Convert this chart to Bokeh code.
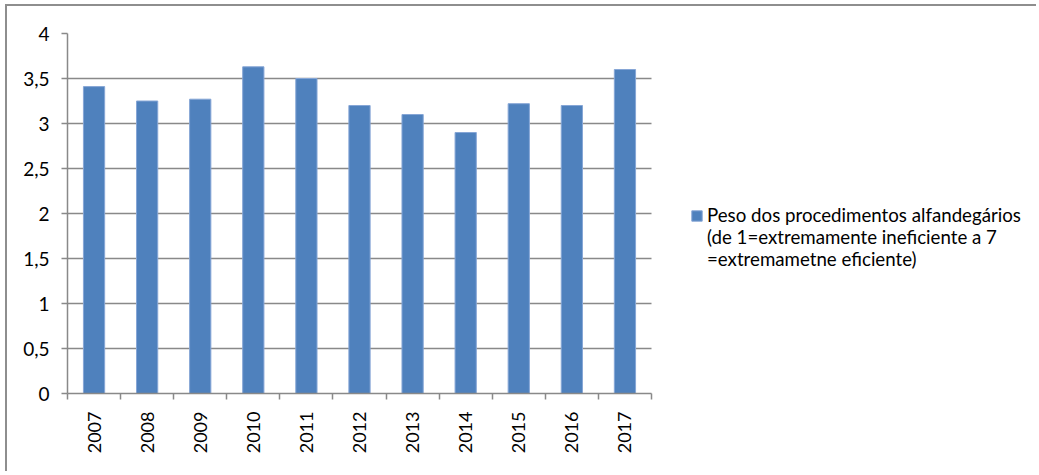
import math
from bokeh.plotting import figure
from bokeh.models import Range1d, FixedTicker, Legend, LegendItem, ColumnDataSource, BoxAnnotation
from bokeh.embed import file_html
from bokeh.resources import INLINE

years = ["2007", "2008", "2009", "2010", "2011", "2012", "2013", "2014", "2015", "2016", "2017"]
values = [3.41, 3.25, 3.27, 3.63, 3.50, 3.20, 3.10, 2.90, 3.22, 3.20, 3.60]
y_ticks = [0, 0.5, 1, 1.5, 2, 2.5, 3, 3.5, 4]
y_tick_labels = ["0", "0,5", "1", "1,5", "2", "2,5", "3", "3,5", "4"]
series_name_lines = ["Peso dos procedimentos alfandegários",
                     "(de 1=extremamente ineficiente a 7",
                     "=extremametne eficiente)"]

FONT = "Lato"
GRID = "#898989"

W, H = 1031, 467
LEFT, TOP, BOTTOM = 60, 27, 80
BAR_AREA_W = 584                       # pixel width taken by the 11 categories
frame_w = W - LEFT
n = len(years)
x_end = n * frame_w / BAR_AREA_W        # extra empty room on the right holds the legend

centers = [i + 0.5 for i in range(n)]
bounds = list(range(n + 1))
src = ColumnDataSource(dict(x=centers, top=values, year=years))

p = figure(width=W, height=H, x_range=Range1d(0, x_end), y_range=Range1d(0, 4),
           output_backend="svg", toolbar_location=None,
           min_border_left=LEFT, min_border_top=TOP, min_border_right=0, min_border_bottom=BOTTOM)
p.styles = {"border-top": "2px solid #8e8e8e", "border-left": "2px solid #8e8e8e",
            "margin-top": "4px", "margin-left": "5px"}
p.outline_line_color = None
p.background_fill_color = "white"
p.border_fill_color = "white"

r = p.vbar(x="x", top="top", width=0.4, source=src, fill_color="#4F81BD",
           line_color="#86A6D6", line_width=1)
# empty, transparent renderer used only for the continuation lines of the legend label
blank = p.vbar(x=[], top=[], width=0.4, fill_alpha=0, line_alpha=0)

# hide gridlines to the right of the category area
p.add_layout(BoxAnnotation(left=n, fill_color="white", fill_alpha=1, line_color=None, level="underlay"))

# x axis
p.xaxis.bounds = (0, n)
p.xaxis.ticker = FixedTicker(ticks=centers, minor_ticks=bounds)
p.xaxis.major_label_overrides = {c: y for c, y in zip(centers, years)}
p.xaxis.major_tick_out = 0
p.xaxis.major_tick_in = 0
p.xaxis.minor_tick_out = 6
p.xaxis.minor_tick_in = 0
p.xaxis.minor_tick_line_color = GRID
p.xaxis.minor_tick_line_width = 1.5
p.xaxis.major_label_orientation = math.pi / 2
p.xaxis.major_label_standoff = 12
p.xaxis.axis_line_color = GRID
p.xaxis.axis_line_width = 1.5
p.xaxis.major_label_text_font = FONT
p.xaxis.major_label_text_font_size = "18px"
p.xaxis.major_label_text_color = "black"
p.xgrid.visible = False

# y axis
p.yaxis.ticker = FixedTicker(ticks=y_ticks)
p.yaxis.major_label_overrides = {t: l for t, l in zip(y_ticks, y_tick_labels)}
p.yaxis.major_tick_out = 6
p.yaxis.major_tick_in = 0
p.yaxis.minor_tick_line_color = None
p.yaxis.major_tick_line_color = GRID
p.yaxis.major_tick_line_width = 1.5
p.yaxis.axis_line_color = GRID
p.yaxis.axis_line_width = 1.5
p.yaxis.major_label_standoff = 12
p.yaxis.major_label_text_font = FONT
p.yaxis.major_label_text_font_size = "19px"
p.yaxis.major_label_text_color = "black"
p.ygrid.ticker = FixedTicker(ticks=y_ticks)
p.ygrid.grid_line_color = GRID
p.ygrid.grid_line_width = 1.5

items = [LegendItem(label=series_name_lines[0], renderers=[r])]
items += [LegendItem(label=t, renderers=[blank]) for t in series_name_lines[1:]]
legend = Legend(items=items,
                location=(623, 123), glyph_width=13, glyph_height=13, label_standoff=4,
                padding=0, margin=0, spacing=0, label_height=21,
                border_line_color=None, background_fill_alpha=0,
                label_text_font=FONT, label_text_font_size="18.7px", label_text_color="black")
p.add_layout(legend, "center")

open("out.html", "w").write(file_html(p, INLINE))
